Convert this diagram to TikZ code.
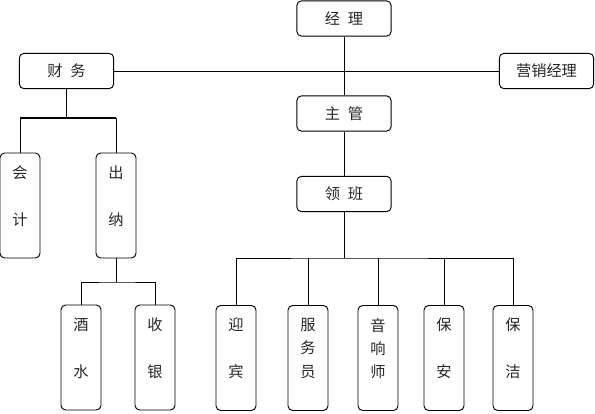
\documentclass[tikz,border=0pt]{standalone}
\usepackage{fontspec}
\usepackage{tikz}
\newfontfamily\cjk{Noto Sans CJK SC}
\usetikzlibrary{calc}
\tikzset{hbox/.style={draw, rounded corners=4pt, line width=0.8pt, minimum width=2.83cm, minimum height=1.06cm, inner sep=0pt, font=\cjk\fontsize{13}{20}\selectfont, text=black!85},
vbox/.style={draw, rounded corners=4pt, line width=0.8pt, inner sep=0pt, font=\cjk\fontsize{13}{20}\selectfont, text=black!85},
link/.style={line width=0.6pt}}
%tall boxes: text starts near the top
\newcommand{\vlabel}[1]{\parbox[t][3.15cm][t]{1.2cm}{\centering\vspace*{0.38cm}#1}}

\begin{document}
\begin{tikzpicture}[x=0.03cm,y=-0.03cm]
 \useasboundingbox (0,0) rectangle (595,413);

 %Top row
 \node[hbox] (jingli) at (344,18.5) {经\hspace{0.5em}理};
 \node[hbox] (caiwu) at (66.5,71) {财\hspace{0.5em}务};
 \node[hbox] (yingxiao) at (546.5,71) {营销经理};
 \node[hbox] (zhuguan) at (344,113.5) {主\hspace{0.5em}管};
 \node[hbox] (lingban) at (344,194) {领\hspace{0.5em}班};

 %Finance side
 \node[vbox] (kuaiji) at (20,205.5) {\vlabel{会\\[20pt]计}};
 \node[vbox] (chuna) at (116,205.5) {\vlabel{出\\[20pt]纳}};
 \node[vbox] (jiushui) at (81,357.5) {\vlabel{酒\\[20pt]水}};
 \node[vbox] (shouyin) at (155,357.5) {\vlabel{收\\[20pt]银}};

 %Staff under lingban
 \node[vbox] (yingbin) at (236,358) {\vlabel{迎\\[20pt]宾}};
 \node[vbox] (fuwu) at (308,358) {\vlabel{服\\务\\员}};
 \node[vbox] (yinxiang) at (378,358) {\vlabel{音\\响\\师}};
 \node[vbox] (baoan) at (444,358) {\vlabel{保\\[20pt]安}};
 \node[vbox] (baojie) at (513,358) {\vlabel{保\\[20pt]洁}};

 %Bus points
 \coordinate (cwbus) at (66.5,118);
 \coordinate (cnbus) at (116,282);
 \coordinate (lbbus) at (344,258);

 %Connectors
 \draw[link] (jingli) -- (zhuguan);
 \draw[link] (zhuguan) -- (lingban);
 \draw[link] (caiwu) -- (yingxiao);
 \draw[link] (caiwu) -- (cwbus);
 \draw[line width=1.3pt] (kuaiji.north |- cwbus) -- (chuna.north |- cwbus);
 \draw[link] (kuaiji.north) -- (kuaiji.north |- cwbus);
 \draw[link] (chuna.north) -- (chuna.north |- cwbus);
 \draw[link] (chuna) -- (cnbus);
 \draw[link] (jiushui.north) |- (cnbus) -| (shouyin.north);
 \draw[link] (lingban) -- (lbbus);
 \draw[link] (yingbin.north) |- (lbbus) -| (baojie.north);
 \foreach \n in {fuwu,yinxiang,baoan}
  \draw[link] (\n.north) -- (\n.north |- lbbus);

\end{tikzpicture}
\end{document}
